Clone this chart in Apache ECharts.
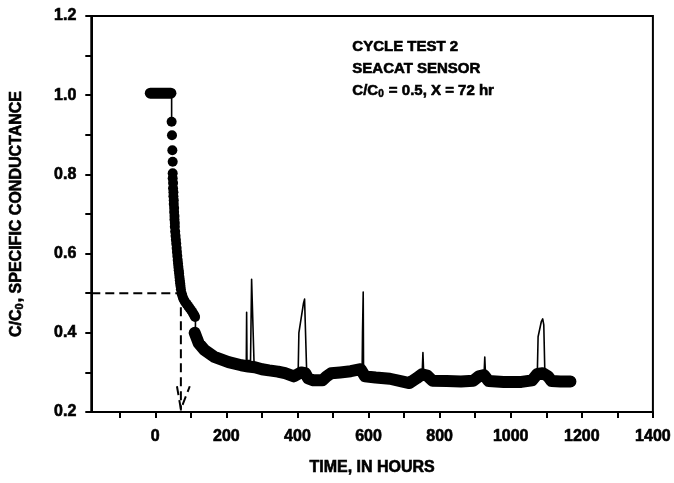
<!DOCTYPE html>
<html>
<head>
<meta charset="utf-8">
<script src="https://cdn.jsdelivr.net/npm/echarts@6/dist/echarts.min.js"></script>
<style>
  html, body { margin: 0; padding: 0; background: #ffffff; }
  #chart { width: 674px; height: 483px; }
</style>
</head>
<body>
<div id="chart"></div>
<script>
// Axis ranges and ticks
const xMin = -180, xMax = 1400;
const yMin = 0.2, yMax = 1.2;
const xTickHours = [-100, 0, 100, 200, 300, 400, 500, 600, 700, 800, 900, 1000, 1100, 1200, 1300, 1400];
const xLabelHours = [0, 200, 400, 600, 800, 1000, 1200, 1400];
const yTickValues = [0.2, 0.3, 0.4, 0.5, 0.6, 0.7, 0.8, 0.9, 1.0, 1.1, 1.2];
const yLabelValues = [0.2, 0.4, 0.6, 0.8, 1.0, 1.2];

// Breakthrough reference: C/C0 = 0.5 reached at 72 hours
const refLevel = 0.5;
const refTime = 72;
const arrowArms = [[61, 0.265], [72, 0.207], [97, 0.265]];

// Initial plateau before the cycle starts [hours, C/C0]
const plateauPoints = [[-14, 1.005], [44, 1.005]];

// Rapid decline, individual readings [hours, C/C0]
const declinePoints = [
  [46, 0.933], [47, 0.899], [48, 0.861], [49, 0.832], [49, 0.803], [49, 0.79],
  [50, 0.778], [50, 0.765], [51, 0.755], [51, 0.745], [52, 0.735], [52, 0.725],
  [53, 0.715], [53, 0.705], [54, 0.695], [54, 0.686], [55, 0.677], [55, 0.668],
  [56, 0.656], [57, 0.645], [58, 0.635], [59, 0.625], [60, 0.614], [61, 0.604],
  [62, 0.594], [63, 0.584], [64, 0.575], [65, 0.566], [66, 0.558], [67, 0.55],
  [68, 0.541], [69, 0.533], [70, 0.525], [71, 0.518], [72, 0.51], [74, 0.50],
  [76, 0.494], [78, 0.488], [81, 0.483], [84, 0.478], [88, 0.473], [92, 0.468],
  [96, 0.463], [100, 0.458], [104, 0.453], [107, 0.448], [110, 0.444], [112, 0.44]
];

// Long-term record after the step change [hours, C/C0]
const tailPoints = [
  [111, 0.40], [122, 0.374], [138, 0.357], [166, 0.339], [206, 0.326], [242, 0.318],
  [262, 0.315], [280, 0.313], [300, 0.308], [320, 0.305], [345, 0.302], [365, 0.298],
  [390, 0.29], [400, 0.295], [410, 0.30], [422, 0.298], [430, 0.285], [445, 0.28],
  [470, 0.28], [482, 0.29], [495, 0.298], [520, 0.30], [550, 0.303], [578, 0.308],
  [590, 0.29], [620, 0.287], [660, 0.284], [690, 0.278], [715, 0.273], [735, 0.285],
  [750, 0.295], [765, 0.292], [780, 0.279], [820, 0.278], [860, 0.277], [895, 0.279],
  [910, 0.29], [925, 0.293], [938, 0.278], [980, 0.276], [1030, 0.276], [1060, 0.28],
  [1075, 0.296], [1090, 0.298], [1105, 0.29], [1115, 0.278], [1140, 0.277], [1168, 0.277]
];

// Thin connecting trace: step drops and short conductance spikes (null = break)
const tracePoints = [
  [46, 1.005], [46, 0.933], null,
  [113, 0.44], [113, 0.405], null,
  [256, 0.32], [257, 0.452], [258, 0.33], [268, 0.33], [271, 0.535], [274, 0.538], [276, 0.53], [278, 0.32], null,
  [402, 0.30], [404, 0.40], [417, 0.475], [420, 0.485], [422, 0.48], [426, 0.30], null,
  [582, 0.31], [583, 0.40], [585, 0.503], [586, 0.30], null,
  [751, 0.30], [753, 0.35], [755, 0.30], null,
  [925, 0.295], [927, 0.339], [929, 0.295], null,
  [1075, 0.305], [1077, 0.39], [1086, 0.428], [1090, 0.435], [1093, 0.42], [1096, 0.30]
];

const FONT = "'Liberation Sans', Arial, Helvetica, sans-serif";
const ink = '#000000';
const dashed = { color: ink, width: 2, type: [9, 5] };
// heavy bold lettering
const heavy = { fontFamily: FONT, fontWeight: 'bold', color: ink, textBorderColor: ink, textBorderWidth: 0.6 };

const chart = echarts.init(document.getElementById('chart'), null, { renderer: 'canvas' });

chart.setOption({
  animation: false,
  backgroundColor: '#ffffff',
  grid: {
    left: 89, right: 20, top: 16, bottom: 71,
    show: true, borderColor: ink, borderWidth: 2, backgroundColor: 'transparent'
  },
  xAxis: {
    type: 'value',
    min: xMin, max: xMax,
    name: 'TIME, IN HOURS',
    nameLocation: 'middle',
    nameGap: 48,
    nameTextStyle: Object.assign({ fontSize: 16 }, heavy),
    axisLine: { show: true, onZero: false, lineStyle: { color: ink, width: 2 } },
    axisTick: { show: true, inside: false, length: 6, customValues: xTickHours, lineStyle: { color: ink, width: 2 } },
    axisLabel: Object.assign({
      customValues: xLabelHours, margin: 17, fontSize: 16,
      formatter: v => String(v)
    }, heavy),
    splitLine: { show: false }
  },
  yAxis: {
    type: 'value',
    min: yMin, max: yMax,
    name: '{n|C/C}{s|0}{n|, SPECIFIC CONDUCTANCE}',
    nameLocation: 'middle',
    nameRotate: 90,
    nameGap: 65,
    nameTextStyle: {
      color: ink,
      rich: {
        n: Object.assign({ fontSize: 16, lineHeight: 18, verticalAlign: 'top' }, heavy),
        s: Object.assign({ fontSize: 11, lineHeight: 18, verticalAlign: 'top', padding: [6, 1, 0, 0] }, heavy)
      }
    },
    axisLine: { show: true, onZero: false, lineStyle: { color: ink, width: 2 } },
    axisTick: { show: true, inside: false, length: 6, customValues: yTickValues, lineStyle: { color: ink, width: 2 } },
    axisLabel: Object.assign({
      customValues: yLabelValues, margin: 15, fontSize: 16,
      formatter: v => v.toFixed(1)
    }, heavy),
    splitLine: { show: false }
  },
  graphic: [{
    type: 'text',
    left: 352,
    top: 39,
    silent: true,
    style: {
      text: '{n|CYCLE TEST 2}\n{n|SEACAT SENSOR}\n{n|C/C}{s|0}{n| = ' + refLevel.toFixed(1) + ', X = ' + refTime + ' hr}',
      rich: {
        n: { fontFamily: FONT, fontWeight: 'bold', fontSize: 15, fill: ink, stroke: ink, lineWidth: 0.6, lineHeight: 22, verticalAlign: 'top' },
        s: { fontFamily: FONT, fontWeight: 'bold', fontSize: 10, fill: ink, stroke: ink, lineWidth: 0.5, lineHeight: 22, verticalAlign: 'top', padding: [6, 1, 0, 0] }
      }
    }
  }],
  series: [
    {
      name: 'half level', type: 'line', silent: true, showSymbol: false,
      data: [[xMin, refLevel], [refTime, refLevel]],
      lineStyle: dashed, z: 1
    },
    {
      name: 'half time', type: 'line', silent: true, showSymbol: false,
      data: [[refTime, refLevel], [refTime, yMin + 0.004]],
      lineStyle: dashed, z: 1
    },
    {
      name: 'arrow', type: 'line', silent: true, showSymbol: false,
      data: arrowArms,
      lineStyle: dashed, z: 1
    },
    {
      name: 'plateau', type: 'line', silent: true, showSymbol: false,
      data: plateauPoints,
      lineStyle: { color: ink, width: 11, cap: 'round', join: 'round' }, z: 3
    },
    {
      name: 'record', type: 'line', silent: true, showSymbol: false,
      data: tailPoints,
      lineStyle: { color: ink, width: 12, cap: 'round', join: 'round' }, z: 3
    },
    {
      name: 'decline', type: 'scatter', silent: true,
      data: declinePoints,
      symbol: 'circle', symbolSize: 10,
      itemStyle: { color: ink, opacity: 1 }, z: 4
    },
    {
      name: 'trace', type: 'line', silent: true, showSymbol: false, connectNulls: false,
      data: tracePoints,
      lineStyle: { color: ink, width: 1.6, join: 'round' }, z: 5
    }
  ]
});
</script>
</body>
</html>
